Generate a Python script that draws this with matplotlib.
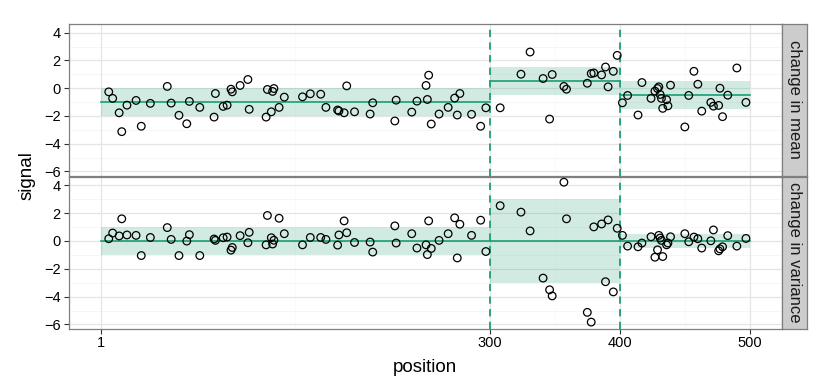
import matplotlib
matplotlib.use("Agg")
import matplotlib.pyplot as plt
import numpy as np

plt.rcParams['font.family'] = ['Liberation Sans', 'DejaVu Sans']

# ---- data ----
position = [7, 10, 15, 17, 21, 28, 32, 39, 52, 55, 61, 67, 69, 77, 88, 89, 95, 98, 101, 102,
            108, 114, 115, 128, 129, 132, 133, 134, 138, 142,
            156, 162, 170, 174, 183, 184, 188, 190, 196, 208, 210, 227, 228, 240, 244, 251, 252,
            253, 255, 261, 268, 273, 275, 277, 286, 293, 297,
            308, 324, 331, 341, 346, 348, 357, 359, 375, 378, 380, 386, 389, 391, 395, 398,
            402, 406, 414, 417, 424, 427, 429, 430, 431, 432, 433, 436, 437, 439, 450, 453,
            457, 460, 463, 470, 472, 476, 477, 479, 483, 490, 497]

signal_mean = [-0.26, -0.73, -1.77, -3.13, -1.22, -0.88, -2.74, -1.09, 0.13, -1.07, -1.95, -2.56,
               -0.95, -1.38, -2.08, -0.38, -1.31, -1.22, -0.07, -0.26, 0.20, 0.63, -1.52, -2.08,
               -0.09, -1.70, -0.23, -0.02, -1.38, -0.64,
               -0.62, -0.40, -0.43, -1.38, -1.57, -1.64, -1.77, 0.17, -1.70, -1.86, -1.05, -2.36,
               -0.86, -1.72, -0.93, 0.20, -0.81, 0.94, -2.58, -1.86, -1.38, -0.71, -1.93, -0.38,
               -1.88, -2.74, -1.41,
               -1.41, 1.01, 2.61, 0.70, -2.22, 0.99, 0.13, -0.07, 0.36, 1.06, 1.10, 0.96, 1.53,
               0.10, 1.22, 2.37,
               -1.05, -0.52, -1.93, 0.41, -0.73, -0.21, -0.02, 0.10, -0.45, -0.73, -1.45, -0.83,
               -1.27, 0.22, -2.79, -0.52, 1.22, 0.29, -1.65, -1.02, -1.29, -1.24, 0.00, -2.05,
               -0.50, 1.46, -1.02]

signal_var = [0.16, 0.57, 0.36, 1.59, 0.43, 0.40, -1.05, 0.25, 0.96, 0.11, -1.05, -0.01,
              0.45, -1.05, 0.14, 0.04, 0.23, 0.28, -0.66, -0.47, 0.38, -0.13, 0.62, -0.28,
              1.83, 0.23, -0.22, 0.05, 1.63, 0.52,
              -0.28, 0.25, 0.25, 0.11, -0.30, 0.43, 1.44, 0.59, -0.11, -0.08, -0.80, 1.08,
              -0.15, 0.52, -0.51, -0.28, -0.98, 1.44, -0.54, 0.04, 0.52, 1.66, -1.22, 1.20,
              0.40, 1.49, -0.76,
              2.53, 2.07, 0.72, -2.67, -3.51, -3.95, 4.22, 1.59, -5.13, -5.83, 1.01, 1.22,
              -2.93, 1.51, -3.66, 0.91,
              0.40, -0.37, -0.42, -0.15, 0.30, -1.17, -0.64, 0.40, 0.21, 0.04, -1.12, -0.28,
              -0.15, 0.30, 0.52, -0.06, 0.28, 0.16, -0.51, 0.01, 0.79, -0.71, -0.57, -0.42,
              0.38, -0.37, 0.18]

seg_start = [1, 300, 400]
seg_end = [300, 400, 500]
mean_mu = [-1.0, 0.5, -0.5]
mean_sd = [1.0, 1.0, 1.0]
var_mu = [0.0, 0.0, 0.0]
var_sd = [1.0, 3.0, 0.5]
changepoints = [300, 400]

panels = ["change in mean", "change in variance"]
xticks = [1, 300, 400, 500]
yticks = [-6, -4, -2, 0, 2, 4]

# ---- style ----
GREEN = "#1B9E77"
W, H = 830, 391
fig = plt.figure(figsize=(W / 100, H / 100), dpi=100)

left, right = 68.5, 782.3
strip_r = 806.7
panel_px = [(24, 175.5), (176.5, 328.5)]

def fx(px):
    return px / W

def fy(py):
    return 1 - py / H

xlim = (-23.95, 524.95)
ylim = (-6.29, 4.63)
minor_x = [(xticks[i] + xticks[i + 1]) / 2 for i in range(len(xticks) - 1)]
minor_y = [(yticks[i] + yticks[i + 1]) / 2 for i in range(len(yticks) - 1)]

series = [(signal_mean, mean_mu, mean_sd), (signal_var, var_mu, var_sd)]

for i, (top, bot) in enumerate(panel_px):
    ax = fig.add_axes([fx(left), fy(bot), fx(right - left), (bot - top) / H])
    ax.set_xlim(*xlim)
    ax.set_ylim(*ylim)
    ax.set_facecolor("white")
    for v in minor_x:
        ax.axvline(v, color="#FAFAFA", lw=0.6, zorder=0)
    for v in minor_y:
        ax.axhline(v, color="#F5F5F5", lw=0.6, zorder=0)
    for v in xticks:
        ax.axvline(v, color="#E5E5E5", lw=0.9, zorder=0)
    for v in yticks:
        ax.axhline(v, color="#E5E5E5", lw=0.9, zorder=0)

    vals, mu, sd = series[i]
    for s, e, m, d in zip(seg_start, seg_end, mu, sd):
        ax.fill_between([s, e], [m - d, m - d], [m + d, m + d], color=GREEN,
                        alpha=0.2, lw=0, zorder=1)
        ax.plot([s, e], [m, m], color=GREEN, lw=1.2, zorder=2)
    for c in changepoints:
        ax.axvline(c, color=GREEN, lw=1.3, ls=(0, (4, 3)), zorder=3)
    ax.scatter(position, vals, s=30, facecolors="none", edgecolors="black",
               linewidths=0.9, zorder=4)

    ax.set_yticks(yticks)
    ax.set_yticklabels([str(t).replace("-", "\u2212") for t in yticks])
    ax.tick_params(axis="y", length=3.5, width=0.8, color="#333333",
                   labelsize=10.5, labelcolor="black", pad=2)
    if i == 1:
        ax.set_xticks(xticks)
        ax.set_xticklabels([str(t) for t in xticks])
        ax.tick_params(axis="x", length=3.5, width=0.8, color="#333333",
                       labelsize=10.5, labelcolor="black", pad=2)
    else:
        ax.set_xticks([])
    for sp in ax.spines.values():
        sp.set_color("#7F7F7F")
        sp.set_linewidth(0.9)

    sax = fig.add_axes([fx(right), fy(bot), fx(strip_r - right), (bot - top) / H])
    sax.set_facecolor("#CCCCCC")
    sax.set_xticks([])
    sax.set_yticks([])
    for sp in sax.spines.values():
        sp.set_color("#7F7F7F")
        sp.set_linewidth(0.9)
    sax.text(0.5, 0.5, panels[i], rotation=-90, ha="center", va="center",
             fontsize=12, color="#1A1A1A", transform=sax.transAxes)

fig.text(fx((left + right) / 2), fy(368), "position", ha="center", va="center",
         fontsize=13.5, color="black")
fig.text(fx(27), fy(176), "signal", ha="center", va="center", rotation=90,
         fontsize=13.5, color="black")

fig.savefig("out.png", dpi=100)
